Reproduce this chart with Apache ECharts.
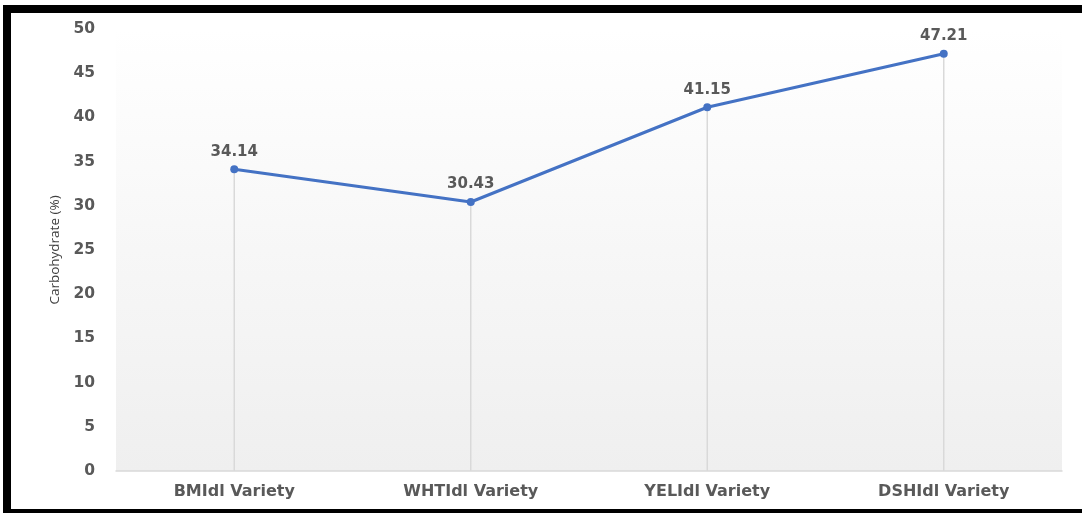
<!DOCTYPE html>
<html>
<head>
<meta charset="utf-8">
<script src="https://cdn.jsdelivr.net/npm/echarts@6/dist/echarts.min.js"></script>
<style>
html,body{margin:0;padding:0;background:#fff;}
#wrap{position:relative;width:1082px;height:513px;overflow:hidden;}
#chart{position:absolute;left:0;top:0;width:1082px;height:513px;}
#frame{position:absolute;left:3px;top:5px;width:1100px;height:496px;border:8px solid #000;border-right:none;pointer-events:none;box-sizing:content-box;}
</style>
</head>
<body>
<div id="wrap"><div id="chart"></div><div id="frame"></div></div>
<script>
const categories = ['BMIdl Variety', 'WHTIdl Variety', 'YELIdl Variety', 'DSHIdl Variety'];
const carbohydrate = [34.14, 30.43, 41.15, 47.21];
const yTicks = { min: 0, max: 50, interval: 5 };
const yAxisName = 'Carbohydrate (%)';

const chart = echarts.init(document.getElementById('chart'), null, { renderer: 'canvas' });
chart.setOption({
  animation: false,
  backgroundColor: '#ffffff',
  grid: {
    left: 116, right: 20, top: 29, bottom: 42,
    show: true, borderWidth: 0,
    backgroundColor: new echarts.graphic.LinearGradient(0, 0, 0, 1, [
      { offset: 0, color: '#ffffff' },
      { offset: 1, color: '#efefef' }
    ])
  },
  xAxis: {
    type: 'category',
    data: categories,
    boundaryGap: true,
    axisLine: { show: true, lineStyle: { color: '#d9d9d9', width: 1.5 } },
    axisTick: { show: false },
    axisLabel: { color: '#595959', fontFamily: 'DejaVu Sans', fontWeight: 'bold', fontSize: 16, margin: 13 },
    splitLine: { show: false }
  },
  yAxis: {
    type: 'value',
    min: yTicks.min, max: yTicks.max, interval: yTicks.interval,
    name: yAxisName,
    nameLocation: 'middle',
    nameGap: 52,
    nameRotate: 90,
    nameTextStyle: { color: '#404040', fontFamily: 'Open Sans', fontSize: 13.5 },
    axisLine: { show: false },
    axisTick: { show: false },
    splitLine: { show: false },
    axisLabel: { color: '#595959', fontFamily: 'DejaVu Sans', fontWeight: 'bold', fontSize: 15.5, margin: 21 }
  },
  series: [
    {
      type: 'bar',
      data: carbohydrate,
      barWidth: 1.5,
      itemStyle: { color: '#d9d9d9' },
      silent: true,
      z: 1
    },
    {
      type: 'line',
      data: carbohydrate,
      symbol: 'circle',
      symbolSize: 8,
      lineStyle: { color: '#4472c4', width: 3 },
      itemStyle: { color: '#4472c4' },
      label: {
        show: true, position: 'top', distance: 6,
        color: '#595959', fontFamily: 'DejaVu Sans', fontWeight: 'bold', fontSize: 15,
        formatter: p => p.value.toFixed(2)
      },
      z: 3
    }
  ]
});
</script>
</body>
</html>
